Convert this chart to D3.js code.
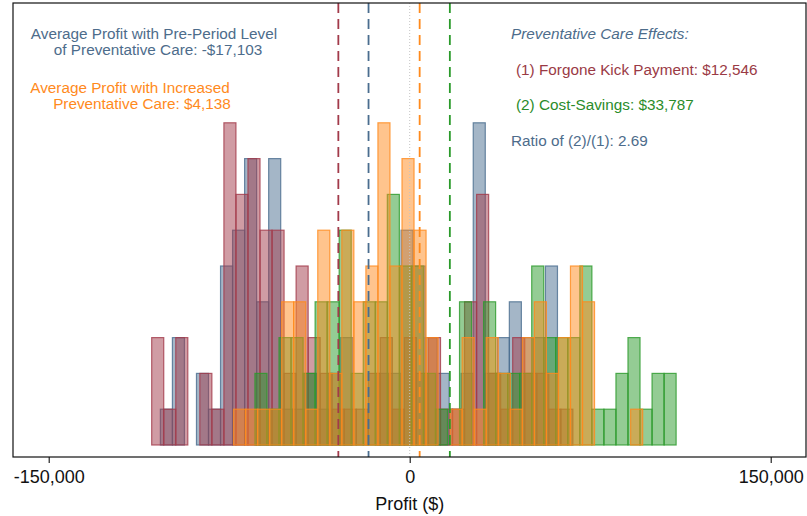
<!DOCTYPE html>
<html>
<head>
<meta charset="utf-8">
<script src="https://cdn.jsdelivr.net/npm/d3@7"></script>
<style>
  body { margin: 0; background: #fff; }
  svg { display: block; }
  text { font-family: "Liberation Sans", Arial, Helvetica, sans-serif; }
</style>
</head>
<body>
<svg id="chart" width="807" height="516"></svg>
<script>
// Histogram bins are $5,000 wide; each series starts at its own minimum.
const binWidth = 5000;

// Profit distributions (number of practices per bin)
const preStart = -103600;        // pre-period level of preventative care
const preCounts = [1, 3, 0, 2, 1, 5, 6, 8, 4, 8, 1, 1, 2, 1, 2, 3, 0, 0, 2, 2, 6, 5, 3, 2, 1, 2, 9, 2, 3, 4, 3, 3, 5];

const kickStart = -107200;       // pre-period profit minus forgone kick payment
const kickCounts = [3, 1, 3, 0, 2, 1, 9, 7, 8, 6, 6, 2, 5, 3, 2, 1, 1, 1, 2, 3, 1, 3, 2, 3, 1, 1, 4, 7, 2, 1, 3, 2, 2, 1, 1];

const savingsStart = -64300;     // pre-period profit plus cost-savings
const savingsCounts = [2, 1, 3, 3, 2, 4, 4, 6, 2, 4, 4, 7, 5, 5, 2, 1, 0, 4, 0, 4, 2, 2, 2, 5, 3, 3, 3, 5, 1, 1, 2, 3, 1, 2, 2];

const increasedStart = -73200;   // increased preventative care
const increasedCounts = [1, 1, 1, 1, 4, 4, 1, 6, 2, 6, 4, 5, 9, 5, 8, 6, 3, 0, 1, 3, 1, 3, 2, 1, 3, 4, 2, 3, 5, 4, 0, 0, 0, 1];

// Means of each distribution (dashed reference lines)
const preMean = -17103;
const kickEffect = 12546;
const savingsEffect = 33787;
const increasedMean = 4138;

const xTicks = [-150000, 0, 150000];

const colors = {
  pre: "#4a6d8f",
  kick: "#a23a4a",
  savings: "#2a9a2a",
  increased: "#ff8a1c"
};
const textColors = {
  pre: "#4d6c8b",
  kick: "#9a3a45",
  savings: "#2a8c2a",
  increased: "#ff8a1c"
};

const svg = d3.select("#chart");
const W = 807, H = 516;
svg.append("rect").attr("width", W).attr("height", H).attr("fill", "#fff");

const frame = { left: 13, top: 3, right: 806, bottom: 457 };

const x = d3.scaleLinear().domain([-150000, 150000]).range([48.7, 770.7]);
const y = d3.scaleLinear().domain([0, 9]).range([445, 122.8]);

const series = [
  { key: "pre", start: preStart, counts: preCounts },
  { key: "kick", start: kickStart, counts: kickCounts },
  { key: "savings", start: savingsStart, counts: savingsCounts },
  { key: "increased", start: increasedStart, counts: increasedCounts }
];

// Overlaid translucent histograms
series.forEach(s => {
  const bins = s.counts
    .map((c, i) => ({ x0: s.start + i * binWidth, x1: s.start + (i + 1) * binWidth, c }))
    .filter(d => d.c > 0);
  svg.append("g")
    .selectAll("rect")
    .data(bins)
    .join("rect")
    .attr("x", d => x(d.x0))
    .attr("width", d => x(d.x1) - x(d.x0))
    .attr("y", d => y(d.c))
    .attr("height", d => y(0) - y(d.c))
    .attr("fill", colors[s.key])
    .attr("fill-opacity", 0.5)
    .attr("stroke", colors[s.key])
    .attr("stroke-opacity", 0.8)
    .attr("stroke-width", 1.2);
});

// Zero reference line
svg.append("line")
  .attr("x1", x(0)).attr("x2", x(0))
  .attr("y1", frame.top).attr("y2", frame.bottom)
  .attr("stroke", "#c4c4c4")
  .attr("stroke-width", 1)
  .attr("stroke-dasharray", "1,2");

// Mean lines
const means = [
  { key: "kick", v: preMean - kickEffect },
  { key: "pre", v: preMean },
  { key: "increased", v: increasedMean },
  { key: "savings", v: preMean + savingsEffect }
];
svg.append("g")
  .selectAll("line")
  .data(means)
  .join("line")
  .attr("x1", d => x(d.v)).attr("x2", d => x(d.v))
  .attr("y1", frame.top).attr("y2", frame.bottom)
  .attr("stroke", d => colors[d.key])
  .attr("stroke-width", 1.8)
  .attr("stroke-dasharray", "10,6");

// Plot frame
svg.append("rect")
  .attr("x", frame.left).attr("y", frame.top)
  .attr("width", frame.right - frame.left)
  .attr("height", frame.bottom - frame.top)
  .attr("fill", "none")
  .attr("stroke", "#111")
  .attr("stroke-width", 1.2);

// X axis
const fmt = d3.format(",");
const xAxis = d3.axisBottom(x)
  .tickValues(xTicks)
  .tickSize(6)
  .tickPadding(7)
  .tickFormat(d => fmt(d).replace("\u2212", "-"));
const gx = svg.append("g").attr("transform", `translate(0,${frame.bottom})`).call(xAxis);
gx.select(".domain").remove();
gx.selectAll(".tick line").attr("stroke", "#111").attr("stroke-width", 1.1);
gx.selectAll(".tick text")
  .attr("fill", "#111")
  .style("font-size", "18px")
  .style("font-family", "\"Liberation Sans\", Arial, Helvetica, sans-serif");

svg.append("text")
  .attr("x", x(0)).attr("y", 510)
  .attr("text-anchor", "middle")
  .attr("fill", "#111")
  .style("font-size", "18px")
  .text("Profit ($)");

// Annotations
const fs = "15.3px";
function label(txt, xp, yp, color, anchor, italic) {
  svg.append("text")
    .attr("x", xp).attr("y", yp)
    .attr("text-anchor", anchor)
    .attr("fill", color)
    .style("font-size", fs)
    .style("font-style", italic ? "italic" : "normal")
    .text(txt);
}
label("Average Profit with Pre-Period Level", 154, 39, textColors.pre, "middle");
label("of Preventative Care: -$17,103", 158, 55, textColors.pre, "middle");
label("Average Profit with Increased", 130, 93, textColors.increased, "middle");
label("Preventative Care: $4,138", 142, 109, textColors.increased, "middle");

label("Preventative Care Effects:", 511, 39, textColors.pre, "start", true);
label("(1) Forgone Kick Payment: $12,546", 516, 75, textColors.kick, "start");
label("(2) Cost-Savings: $33,787", 516, 110, textColors.savings, "start");
label("Ratio of (2)/(1): 2.69", 511, 146, textColors.pre, "start");
</script>
</body>
</html>
